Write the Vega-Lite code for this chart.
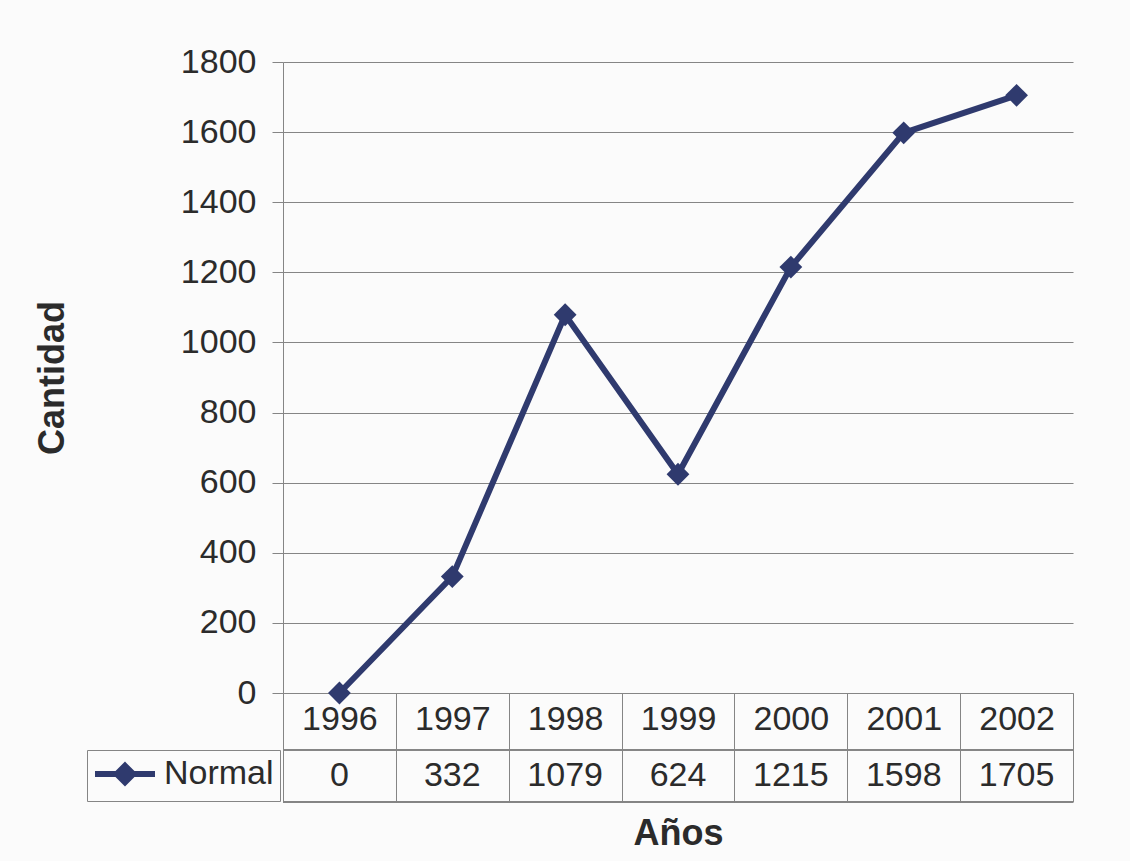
{
  "$schema": "https://vega.github.io/schema/vega-lite/v6.json",
  "width": 790,
  "height": 631,
  "autosize": {"type": "none"},
  "padding": {"left": 283, "top": 62, "right": 57, "bottom": 168},
  "background": "#fbfbfb",
  "config": {
    "view": {"stroke": null},
    "font": "Liberation Sans",
    "axis": {"labelColor": "#2b2b2b", "titleColor": "#2b2b2b", "labelFont": "Liberation Sans", "titleFont": "Liberation Sans"}
  },
  "data": {
    "values": [
      {"anio": "1996", "cantidad": 0, "serie": "Normal"},
      {"anio": "1997", "cantidad": 332, "serie": "Normal"},
      {"anio": "1998", "cantidad": 1079, "serie": "Normal"},
      {"anio": "1999", "cantidad": 624, "serie": "Normal"},
      {"anio": "2000", "cantidad": 1215, "serie": "Normal"},
      {"anio": "2001", "cantidad": 1598, "serie": "Normal"},
      {"anio": "2002", "cantidad": 1705, "serie": "Normal"}
    ]
  },
  "encoding": {
    "x": {
      "field": "anio",
      "type": "ordinal",
      "scale": {"type": "band", "paddingInner": 0, "paddingOuter": 0},
      "axis": {
        "title": "Años",
        "titleFontSize": 36,
        "titleFontWeight": "bold",
        "titlePadding": 14,
        "labelAngle": 0,
        "labelFontSize": 34,
        "labelBaseline": "middle",
        "labelPadding": -83,
        "tickBand": "extent",
        "tickSize": 109,
        "tickColor": "#858585",
        "domainColor": "#858585",
        "grid": false
      }
    }
  },
  "layer": [
    {
      "mark": {"type": "rule", "color": "#858585", "strokeWidth": 1},
      "encoding": {
        "x": null,
        "y": {"datum": -162.6, "type": "quantitative"}
      }
    },
    {
      "mark": {"type": "rule", "color": "#858585", "strokeWidth": 1},
      "encoding": {
        "x": null,
        "y": {"datum": -310.9, "type": "quantitative"}
      }
    },
    {
      "mark": {"type": "line", "strokeWidth": 6},
      "encoding": {
        "y": {
          "field": "cantidad",
          "type": "quantitative",
          "scale": {"domain": [0, 1800], "nice": false},
          "axis": {
            "title": "Cantidad",
            "titleFontSize": 36,
            "titleFontWeight": "bold",
            "titlePadding": 109,
            "format": "d",
            "values": [0, 200, 400, 600, 800, 1000, 1200, 1400, 1600, 1800],
            "labelFontSize": 34,
            "labelPadding": 16,
            "tickSize": 11,
            "tickColor": "#858585",
            "domainColor": "#858585",
            "grid": true,
            "gridColor": "#858585"
          }
        },
        "color": {
          "field": "serie",
          "type": "nominal",
          "scale": {"range": ["#2f3a6e"]},
          "legend": {
            "title": null,
            "orient": "none",
            "legendX": -196,
            "legendY": 688,
            "padding": 6,
            "strokeColor": "#858585",
            "labelFontSize": 34,
            "labelColor": "#2b2b2b",
            "labelFont": "Liberation Sans",
            "symbolType": "M-2,0L2,0M0,-0.55L0.55,0L0,0.55L-0.55,0Z",
            "symbolSize": 900,
            "symbolOffset": 14,
            "labelOffset": 21,
            "symbolStrokeWidth": 6,
            "encode": {
              "symbols": {
                "update": {
                  "fill": {"value": "#2f3a6e"},
                  "stroke": {"value": "#2f3a6e"},
                  "strokeWidth": {"value": 6}
                }
              }
            }
          }
        }
      }
    },
    {
      "mark": {"type": "point", "shape": "diamond", "filled": true, "size": 520, "color": "#2f3a6e", "opacity": 1},
      "encoding": {
        "y": {"field": "cantidad", "type": "quantitative"}
      }
    },
    {
      "mark": {"type": "text", "fontSize": 34, "color": "#2b2b2b", "baseline": "middle", "align": "center"},
      "encoding": {
        "y": {"datum": -237, "type": "quantitative"},
        "text": {"field": "cantidad", "type": "quantitative"}
      }
    }
  ]
}
